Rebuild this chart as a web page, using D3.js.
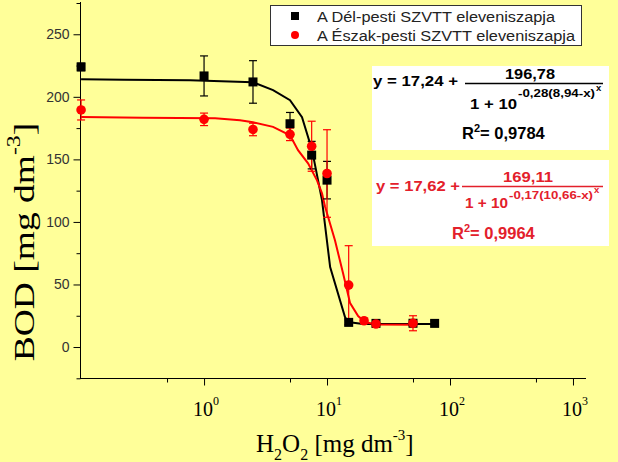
<!DOCTYPE html>
<html><head><meta charset="utf-8">
<script src="https://cdn.jsdelivr.net/npm/d3@7"></script>
<style>body{margin:0;background:#ffff99;} svg{display:block}</style>
</head><body><svg id="c" width="618" height="462"></svg>
<script>
// ---- data ----
const delX   = [0.1, 1, 2.5, 5, 7.5, 10, 15, 25, 50, 75];
const delY   = [223.9, 216.7, 211.9, 178.5, 153.4, 133.4, 19.7, 18.9, 19.0, 18.9];
const delErr = [3, 16, 17, 9, 11, 15, 2, 2, 2, 2];
const eszX   = [0.1, 1, 2.5, 5, 7.5, 10, 15, 20, 25, 50];
const eszY   = [189.5, 182, 173.9, 170, 160.5, 138.7, 49.5, 21, 18.4, 19];
const eszErr = [8, 5, 5, 5, 20, 35, 31.5, 2, 2, 6];
const delFitX = [0.1, 0.224, 0.77, 2.5, 3.64, 5.0, 6.26, 7.56, 9.1, 10.6, 14.0, 14.8, 19.6, 75.5];
const delFitY = [214.1, 213.7, 213.3, 211.7, 205.3, 197.3, 183.7, 157.3, 117.4, 63.9, 24, 20, 18.4, 18.4];
const eszFitX = [0.1, 0.319, 1.23, 1.96, 2.5, 3.64, 5.0, 5.81, 7.01, 8.29, 9.1, 9.63, 11.6, 13.5, 15.4, 17.9, 20.4, 25, 50];
const eszFitY = [183.9, 183.3, 182.9, 181.3, 179.7, 176, 169.3, 157.4, 146.8, 133.2, 122.8, 112.4, 85.3, 58.9, 35.1, 24.8, 20, 18, 17.8];
const yTicks = [0, 50, 100, 150, 200, 250];
const yMinor = [-25, 25, 75, 125, 175, 225, 275];
const xTicks = [1, 10, 100, 1000];
const xTickExp = ["0", "1", "2", "3"];
const xMinor = [0.5, 5, 50, 500];
const seriesNames = ["A Dél-pesti SZVTT eleveniszapja", "A Észak-pesti SZVTT eleveniszapja"];

const RED = "#ff0000", TXTRED = "#e3202b";
const svg = d3.select("#c");
svg.append("rect").attr("width", 618).attr("height", 462).attr("fill", "#ffff99");

const x = d3.scaleLog().domain([0.098, 1276]).range([80, 586]);
const y = d3.scaleLinear().domain([-25, 275]).range([378.3, 3]);

// axes
const gy = svg.append("g").attr("transform", "translate(80.5,0)");
gy.call(d3.axisLeft(y).tickValues(yTicks).tickSize(7).tickPadding(4).tickFormat(d3.format("d")));
gy.append("g").call(d3.axisLeft(y).tickValues(yMinor).tickSize(4).tickFormat(""));
gy.selectAll(".domain").remove();
gy.append("line").attr("y1", 2).attr("y2", 378.5).attr("stroke", "#000");
gy.selectAll("text").attr("font-family", "Arial, 'Liberation Sans', sans-serif").attr("font-size", 14).attr("fill", "#333");
gy.selectAll(".tick line").attr("stroke", "#000");

const gx = svg.append("g").attr("transform", "translate(0,378.5)");
gx.call(d3.axisBottom(x).tickValues(xTicks).tickSize(7).tickFormat(""));
gx.append("g").call(d3.axisBottom(x).tickValues(xMinor).tickSize(4).tickFormat(""));
gx.selectAll(".domain").remove();
gx.append("line").attr("x1", 80).attr("x2", 586).attr("stroke", "#000");
const xl = gx.selectAll(".xlab").data(xTicks).enter().append("text")
  .attr("class", "xlab").attr("x", d => x(d) + 2).attr("y", 37)
  .attr("text-anchor", "middle").attr("font-family", "'Liberation Serif', 'Times New Roman', serif")
  .attr("font-size", 20).attr("fill", "#000");
xl.append("tspan").text("10");
xl.append("tspan").attr("dy", -11).attr("font-size", 12).text((d, i) => xTickExp[i]);

// titles
const xt = svg.append("text").attr("x", 256).attr("y", 452)
  .attr("font-family", "'Liberation Serif', 'Times New Roman', serif").attr("font-size", 25).attr("fill", "#000");
xt.append("tspan").text("H");
xt.append("tspan").attr("dy", 8).attr("font-size", 16).text("2");
xt.append("tspan").attr("dy", -8).text("O");
xt.append("tspan").attr("dy", 8).attr("font-size", 16).text("2");
xt.append("tspan").attr("dy", -8).text(" [mg dm");
xt.append("tspan").attr("dy", -12).attr("font-size", 15).text("-3");
xt.append("tspan").attr("dy", 12).text("]");

const yt = svg.append("text").attr("transform", "translate(34,242) rotate(-90) scale(1.25,1)")
  .attr("text-anchor", "middle")
  .attr("font-family", "'Liberation Serif', 'Times New Roman', serif").attr("font-size", 30).attr("fill", "#000");
yt.append("tspan").text("BOD [mg dm");
yt.append("tspan").attr("dy", -14).attr("font-size", 19).text("-3");
yt.append("tspan").attr("dy", 14).text("]");

// fitted curves
const line = d3.line().x(d => x(d[0])).y(d => y(d[1]));
svg.append("path").datum(delFitX.map((v, i) => [v, delFitY[i]])).attr("d", line)
  .attr("fill", "none").attr("stroke", "#000").attr("stroke-width", 2);
svg.append("path").datum(eszFitX.map((v, i) => [v, eszFitY[i]])).attr("d", line)
  .attr("fill", "none").attr("stroke", RED).attr("stroke-width", 2);

function errBars(xs, ys, es, col) {
  const g = svg.append("g").attr("stroke", col).attr("stroke-width", 1.2);
  xs.forEach((v, i) => {
    const cx = x(v), t = y(ys[i] + es[i]), b = y(ys[i] - es[i]);
    g.append("line").attr("x1", cx).attr("x2", cx).attr("y1", t).attr("y2", b);
    g.append("line").attr("x1", cx - 4).attr("x2", cx + 4).attr("y1", t).attr("y2", t);
    g.append("line").attr("x1", cx - 4).attr("x2", cx + 4).attr("y1", b).attr("y2", b);
  });
}
errBars(delX, delY, delErr, "#000");
errBars(eszX, eszY, eszErr, RED);
svg.append("g").selectAll("rect").data(delX).enter().append("rect")
  .attr("x", d => x(d) - 4.5).attr("y", (d, i) => y(delY[i]) - 4.5).attr("width", 9).attr("height", 9).attr("fill", "#000");
svg.append("g").selectAll("circle").data(eszX).enter().append("circle")
  .attr("cx", d => x(d)).attr("cy", (d, i) => y(eszY[i])).attr("r", 4.8).attr("fill", RED);

// legend
svg.append("rect").attr("x", 270.5).attr("y", 5.5).attr("width", 311).attr("height", 40)
  .attr("fill", "#fff").attr("stroke", "#333");
svg.append("rect").attr("x", 291).attr("y", 12).attr("width", 8).attr("height", 8).attr("fill", "#000");
svg.append("circle").attr("cx", 295).attr("cy", 35).attr("r", 4).attr("fill", RED);
const lw = [238, 258];
seriesNames.forEach((s, i) => {
  svg.append("text").attr("x", 317).attr("y", 21.5 + i * 19.5).attr("textLength", lw[i]).attr("lengthAdjust", "spacingAndGlyphs")
    .attr("font-family", "Arial, 'Liberation Sans', sans-serif").attr("font-size", 14).attr("fill", "#222").text(s);
});

// equation boxes
const BF = "Arial, 'Liberation Sans', sans-serif";
function eqBox(o) {
  const g = svg.append("g").attr("fill", o.col).attr("font-family", BF).attr("font-weight", "bold");
  svg.insert("rect", () => g.node()).attr("x", 372).attr("y", o.by).attr("width", 237).attr("height", o.bh).attr("fill", "#fff");
  g.append("text").attr("x", o.lx).attr("y", o.ly).attr("font-size", 15.5).attr("textLength", o.lw).attr("lengthAdjust", "spacingAndGlyphs").text(o.lead);
  g.append("text").attr("x", o.nx).attr("y", o.ny).attr("font-size", 15.5).attr("text-anchor", "middle").attr("textLength", 50).attr("lengthAdjust", "spacingAndGlyphs").text(o.num);
  g.append("line").attr("x1", o.fx1).attr("x2", 603).attr("y1", o.fy).attr("y2", o.fy).attr("stroke", o.col).attr("stroke-width", 1.6);
  g.append("text").attr("x", o.dx).attr("y", o.dy).attr("font-size", 15.5).attr("textLength", o.dw).attr("lengthAdjust", "spacingAndGlyphs").text("1 + 10");
  g.append("text").attr("x", o.ex).attr("y", o.ey).attr("font-size", 10.5).attr("textLength", o.ew).attr("lengthAdjust", "spacingAndGlyphs").text(o.exp);
  g.append("text").attr("x", o.ex + o.ew + 1).attr("y", o.ey - 6).attr("font-size", 9.5).text("x");
  const r = g.append("text").attr("x", o.rx).attr("y", o.ry).attr("font-size", 16.5);
  r.append("tspan").text("R");
  r.append("tspan").attr("dy", -7).attr("font-size", 11).text("2");
  r.append("tspan").attr("dy", 7).text("= " + o.r2);
}
eqBox({col: "#000", by: 66, bh: 84, lead: "y = 17,24 +", lx: 373, ly: 86, lw: 85,
  num: "196,78", nx: 530, ny: 78.5, fx1: 465, fy: 83.5, dx: 470, dy: 109, dw: 47,
  exp: "-0,28(8,94-x)", ex: 518, ey: 97, ew: 77, rx: 462, ry: 138.5, r2: "0,9784"});
eqBox({col: TXTRED, by: 160, bh: 86, lead: "y = 17,62 +", lx: 376, ly: 191, lw: 84,
  num: "169,11", nx: 528, ny: 182, fx1: 462, fy: 186.5, dx: 465, dy: 208, dw: 43,
  exp: "-0,17(10,66-x)", ex: 509, ey: 198.5, ew: 84, rx: 452, ry: 238.5, r2: "0,9964"});
</script></body></html>
